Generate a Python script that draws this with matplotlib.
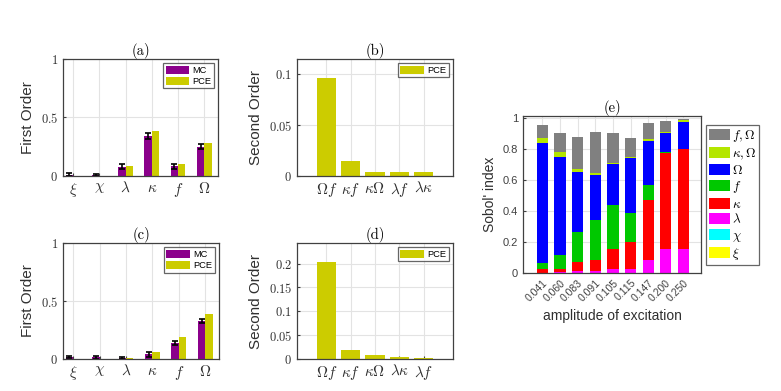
import numpy as np
import matplotlib
matplotlib.use('Agg')
import matplotlib.pyplot as plt

plt.rcParams['mathtext.fontset'] = 'cm'
plt.rcParams['font.family'] = ['Liberation Sans', 'DejaVu Sans']

# FIRST ORDER INDICES
params = [r'$\xi$', r'$\chi$', r'$\lambda$', r'$\kappa$', r'$f$', r'$\Omega$']
mc_a = [0.01, 0.005, 0.08, 0.343, 0.082, 0.252]
mc_a_err = [0.012, 0.008, 0.024, 0.024, 0.024, 0.022]
pce_a = [0.0, 0.0, 0.089, 0.386, 0.1, 0.28]

mc_c = [0.017, 0.016, 0.011, 0.041, 0.137, 0.329]
mc_c_err = [0.012, 0.012, 0.01, 0.02, 0.02, 0.02]
pce_c = [0.001, 0.001, 0.008, 0.06, 0.191, 0.386]

# SECOND ORDER INDICES
pairs_b = [r'$\Omega f$', r'$\kappa f$', r'$\kappa\Omega$', r'$\lambda f$', r'$\lambda\kappa$']
pce_b = [0.096, 0.0148, 0.0036, 0.0036, 0.0036]
pairs_d = [r'$\Omega f$', r'$\kappa f$', r'$\kappa\Omega$', r'$\lambda\kappa$', r'$\lambda f$']
pce_d = [0.203, 0.018, 0.0083, 0.005, 0.003]

# SOBOL' INDEX VS AMPLITUDE
amplitudes = ['0.041', '0.060', '0.083', '0.091', '0.105', '0.115', '0.147', '0.200', '0.250']
s_xi = [0.001, 0.001, 0.001, 0.001, 0.001, 0.001, 0.001, 0.001, 0.001]
s_chi = [0.0, 0.0, 0.0, 0.0, 0.0, 0.0, 0.0, 0.0, 0.0]
s_lambda = [0.002, 0.003, 0.009, 0.011, 0.024, 0.026, 0.086, 0.151, 0.157]
s_kappa = [0.026, 0.025, 0.058, 0.069, 0.127, 0.172, 0.387, 0.621, 0.643]
s_f = [0.034, 0.090, 0.195, 0.264, 0.290, 0.187, 0.097, 0.012, 0.002]
s_omega = [0.777, 0.633, 0.392, 0.288, 0.264, 0.359, 0.284, 0.119, 0.176]
s_kappa_omega = [0.031, 0.032, 0.017, 0.015, 0.007, 0.002, 0.013, 0.007, 0.008]
s_f_omega = [0.085, 0.120, 0.206, 0.261, 0.189, 0.123, 0.101, 0.071, 0.006]

purple = '#8b008b'
olive = '#cccc00'
spine = '#404040'
gridc = '#e3e3e3'
txt = '#303030'

fig = plt.figure(figsize=(7.81, 3.91), dpi=100)


def style(ax):
    for s in ax.spines.values():
        s.set_color(spine)
        s.set_linewidth(0.9)
    ax.grid(True, color=gridc, linewidth=0.8)
    ax.set_axisbelow(True)
    ax.tick_params(direction='in', length=2, color=spine, labelcolor=txt)


def small_legend(ax, hh):
    leg = ax.legend(loc='upper right', fontsize=6.7, handlelength=2.5, handleheight=hh,
                    fancybox=False, borderpad=0.25, labelspacing=0.15, handletextpad=0.4,
                    borderaxespad=0.45)
    leg.get_frame().set_edgecolor(spine)
    leg.get_frame().set_linewidth(0.9)


def first_order(rect, mc, mc_err, pce, title):
    ax = fig.add_axes(rect)
    x = np.arange(len(params))
    w = 0.28
    ax.bar(x - w / 2, mc, w, color=purple, label='MC')
    ax.bar(x + w / 2, pce, w, color=olive, label='PCE')
    ax.errorbar(x - w / 2, mc, yerr=mc_err, fmt='none', ecolor='black',
                elinewidth=1.2, capsize=2, capthick=1.2)
    ax.set_xlim(-0.38, 5.52)
    ax.set_ylim(0, 1)
    ax.set_xticks(x)
    ax.set_xticklabels(params, fontsize=11)
    ax.set_yticks([0, 0.5, 1])
    ax.set_yticklabels(['$0$', '$0.5$', '$1$'], fontsize=9)
    ax.set_ylabel('First Order', fontsize=11, color=txt)
    ax.set_title(title, fontsize=10.5, family='cmr10', pad=3)
    style(ax)
    small_legend(ax, 1.1)
    return ax


def second_order(rect, labels, vals, ymax, yticks, title):
    ax = fig.add_axes(rect)
    x = np.arange(len(labels))
    ax.bar(x, vals, 0.8, color=olive, label='PCE')
    ax.set_xlim(-1.2, 5.2)
    ax.set_ylim(0, ymax)
    ax.set_xticks(x)
    ax.set_xticklabels(labels, fontsize=11)
    ax.set_yticks(yticks)
    ax.set_yticklabels(['$%g$' % t for t in yticks], fontsize=9)
    ax.set_ylabel('Second Order', fontsize=11, color=txt)
    ax.set_title(title, fontsize=10.5, family='cmr10', pad=3)
    style(ax)
    small_legend(ax, 1.0)
    return ax


first_order([0.0807, 0.5499, 0.1985, 0.2992], mc_a, mc_a_err, pce_a, '(a)')
second_order([0.3803, 0.5499, 0.1997, 0.2992], pairs_b, pce_b, 0.115, [0, 0.05, 0.1], '(b)')
first_order([0.0807, 0.0818, 0.1997, 0.2967], mc_c, mc_c_err, pce_c, '(c)')
second_order([0.3803, 0.0818, 0.1997, 0.2967], pairs_d, pce_d, 0.243,
             [0, 0.05, 0.1, 0.15, 0.2], '(d)')

# (e) stacked bars
ax = fig.add_axes([0.6697, 0.3018, 0.2279, 0.4015])
layers = [
    (s_xi, '#ffff00', r'$\xi$'),
    (s_chi, '#00ffff', r'$\chi$'),
    (s_lambda, '#ff00ff', r'$\lambda$'),
    (s_kappa, '#ff0000', r'$\kappa$'),
    (s_f, '#00c800', r'$f$'),
    (s_omega, '#0000ff', r'$\Omega$'),
    (s_kappa_omega, '#b4e600', r'$\kappa,\Omega$'),
    (s_f_omega, '#808080', r'$f,\Omega$'),
]
x = np.arange(len(amplitudes))
bottom = np.zeros(len(amplitudes))
handles = []
for vals, col, lab in layers:
    h = ax.bar(x, vals, 0.64, bottom=bottom, color=col, label=lab)
    handles.append(h)
    bottom += np.array(vals)
ax.set_xlim(-1.1, 9.0)
ax.set_ylim(0, 1.015)
ax.set_xticks(x)
ax.set_xticklabels(amplitudes, rotation=45, ha='right', rotation_mode='anchor',
                   fontsize=7.5)
ax.set_yticks([0, 0.2, 0.4, 0.6, 0.8, 1])
ax.set_yticklabels(['0', '0.2', '0.4', '0.6', '0.8', '1'], fontsize=8)
ax.set_ylabel("Sobol' index", fontsize=10, color=txt)
ax.set_xlabel('amplitude of excitation', fontsize=10, color=txt)
ax.set_title('(e)', fontsize=10.5, family='cmr10', pad=3)
style(ax)
ax.tick_params(labelcolor='#404040')
leg = ax.legend(handles[::-1], [l[2] for l in layers][::-1], loc='upper left',
                bbox_to_anchor=(1.03, 0.94), fontsize=9.5, handlelength=1.6,
                handleheight=0.95, labelspacing=0.17, handletextpad=0.12,
                borderpad=0.2, fancybox=False, borderaxespad=0)
leg.get_frame().set_edgecolor(spine)
leg.get_frame().set_linewidth(0.9)

fig.savefig('out.png', dpi=100)
